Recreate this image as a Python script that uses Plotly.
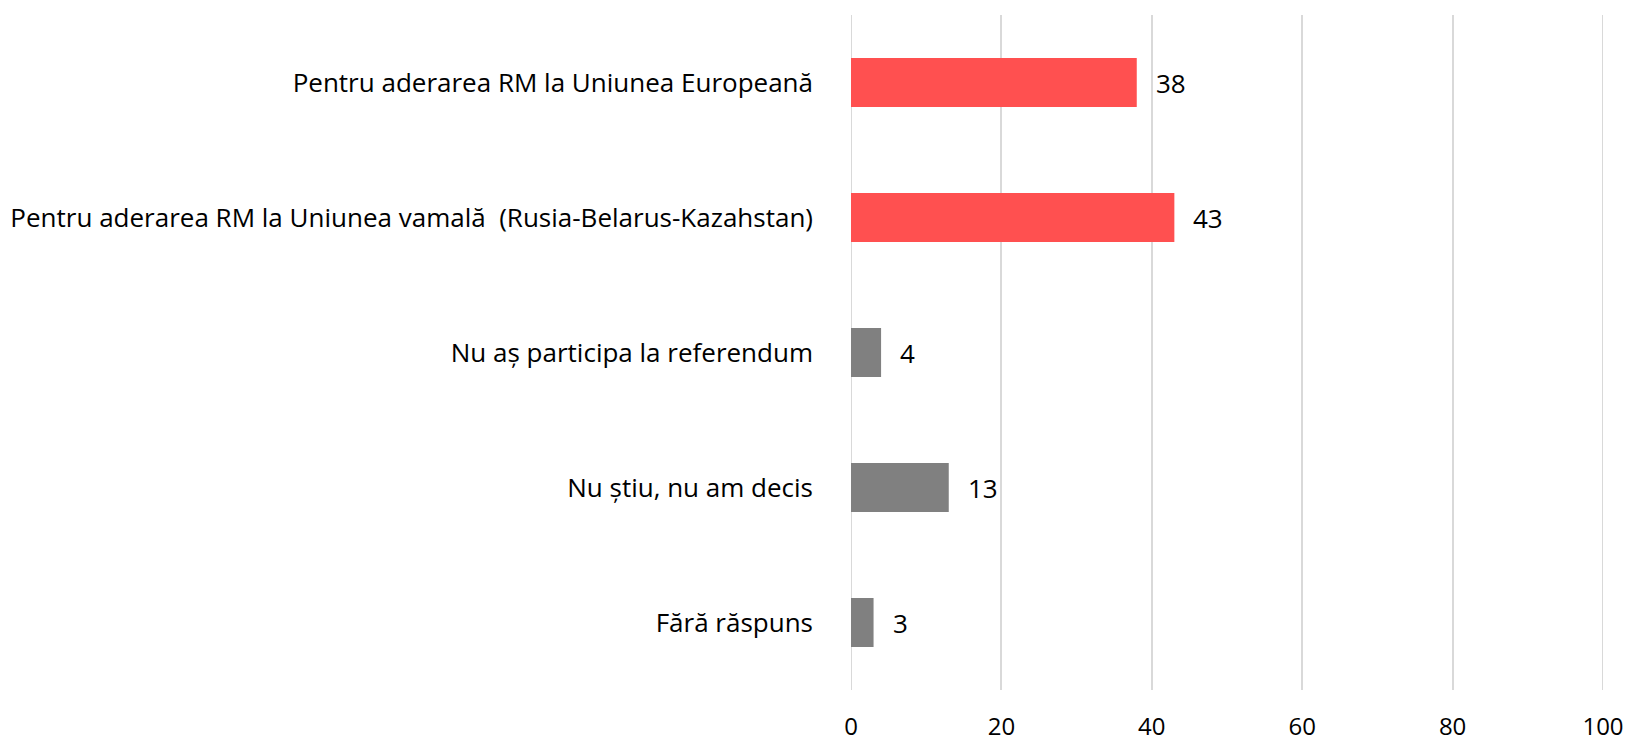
import plotly.graph_objects as go

categories = [
    "Pentru aderarea RM la Uniunea Europeană",
    "Pentru aderarea RM la Uniunea vamală  (Rusia-Belarus-Kazahstan)",
    "Nu aș participa la referendum",
    "Nu știu, nu am decis",
    "Fără răspuns",
]
values = [38, 43, 4, 13, 3]
colors = ["#FF5050", "#FF5050", "#808080", "#808080", "#808080"]
x_ticks = [0, 20, 40, 60, 80, 100]

FONT = "Open Sans"
FS = 26

fig = go.Figure()
fig.add_trace(go.Bar(
    y=categories,
    x=values,
    orientation="h",
    marker=dict(color=colors, line=dict(width=0)),
    width=0.363,
    hoverinfo="x+y",
))

for c, v in zip(categories, values):
    fig.add_annotation(
        x=v, y=c, text=str(v), showarrow=False,
        xanchor="left", yanchor="middle", xshift=17,
        font=dict(family=FONT, size=FS, color="#000000"),
    )

# vertical gridlines at the range edges (plotly hides them there)
for edge in (x_ticks[0], x_ticks[-1]):
    fig.add_shape(type="line", xref="x", yref="paper", x0=edge, x1=edge, y0=0, y1=1,
                  line=dict(color="#D9D9D9", width=2), layer="below")

fig.update_layout(
    width=1627, height=743,
    margin=dict(l=851, r=24, t=15, b=53, autoexpand=False),
    plot_bgcolor="white", paper_bgcolor="white",
    showlegend=False,
    font=dict(family=FONT, size=FS, color="#000000"),
)
fig.update_xaxes(
    range=[0, 100], tickvals=x_ticks, ticktext=[str(t) for t in x_ticks],
    showgrid=True, gridcolor="#D9D9D9", gridwidth=2,
    zeroline=False, showline=False, ticks="",
    tickfont=dict(family=FONT, size=24, color="#000000"),
    ticklabelstandoff=20, automargin=False,
)
fig.update_yaxes(
    categoryorder="array", categoryarray=categories[::-1],
    range=[-0.5, 4.5], showgrid=False, zeroline=False, showline=False, ticks="",
    tickfont=dict(family=FONT, size=FS, color="#000000"),
    ticklabelstandoff=37, automargin=False,
)

fig.write_html(
    "out.html",
    config={"displayModeBar": False},
    post_script="document.body.style.margin='0';document.body.style.overflow='hidden';",
)
